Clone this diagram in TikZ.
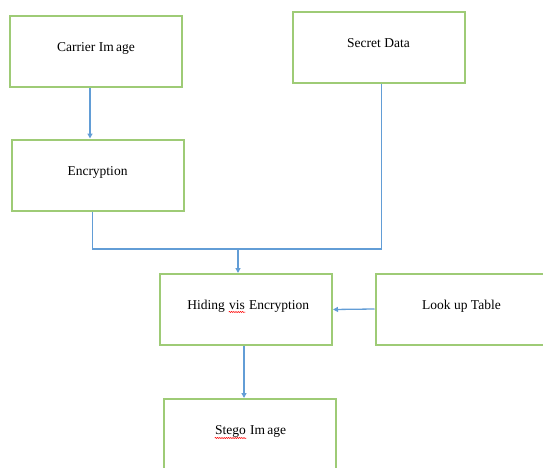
\documentclass[tikz,border=0pt]{standalone}
\usepackage{fontspec}
\setmainfont{Liberation Serif}
\usetikzlibrary{arrows.meta,decorations.pathmorphing}
\definecolor{boxgreen}{RGB}{158,203,118}
\definecolor{lineblue}{RGB}{98,157,214}
\tikzstyle{block}=[draw=boxgreen,line width=2pt,minimum width=172pt,minimum height=71pt,text height=10pt,text depth=10pt,font=\fontsize{13.5}{16}\selectfont]
\tikzstyle{word}=[inner sep=0pt,anchor=base,font=\fontsize{13.5}{16}\selectfont]

\begin{document}
\begin{tikzpicture}[x=1pt,y=1pt,thick]
\tikzstyle{link}=[draw=lineblue,line width=1.3pt]
\tikzstyle{arr}=[link,-{Triangle[length=5pt,width=5pt]}]
\tikzstyle{wave}=[draw=red,line width=0.5pt,decorate,decoration={snake,amplitude=0.6pt,segment length=2.2pt}]
  \clip (0,0) rectangle (543,-468);
  \foreach \place/\name/\txt in {{(96,-51.5)/carrier/Carrier Im\,age},
                                 {(378.5,-48)/secret/Secret Data},
                                 {(97.5,-175)/encrypt/Encryption},
                                 {(246,-309.5)/hiding/},
                                 {(461.5,-309)/lookup/Look up Table},
                                 {(249.5,-434.5)/stego/}}
    \node[block] (\name) at \place {\txt};
  % texts with spelling marks
  \node[word] (hidv) at ([xshift=-9pt]hiding.center) {vis};
  \node[word,anchor=base east] (hidl) at ([xshift=-3.4pt]hidv.base west) {Hiding};
  \node[word,anchor=base west] (hidr) at ([xshift=3.4pt]hidv.base east) {Encryption};
  \draw[wave] ([yshift=-2.5pt]hidv.base west) -- ([yshift=-2.5pt]hidv.base east);
  \node[word] (stg) at ([xshift=-19pt]stego.center) {Stego};
  \node[word,anchor=base west] (stgr) at ([xshift=3.4pt]stg.base east) {Im\,age};
  \draw[wave] ([yshift=-3.5pt]stg.base west) -- ([yshift=-3.5pt]stg.base east);
  \coordinate (join) at (238,-249);
  \draw[arr] ([xshift=-6pt]carrier.south) -- ([xshift=-6pt]carrier.south |- encrypt.north);
  \draw[link] ([xshift=-5pt]encrypt.south) |- (join) -| ([xshift=3pt]secret.south);
  \draw[arr] (join) -- (join |- hiding.north);
  \draw[arr] (lookup.west) -- (hiding.east);
  \draw[arr] ([xshift=-2pt]hiding.south) -- ([xshift=-2pt]hiding.south |- stego.north);
\end{tikzpicture}
\end{document}
